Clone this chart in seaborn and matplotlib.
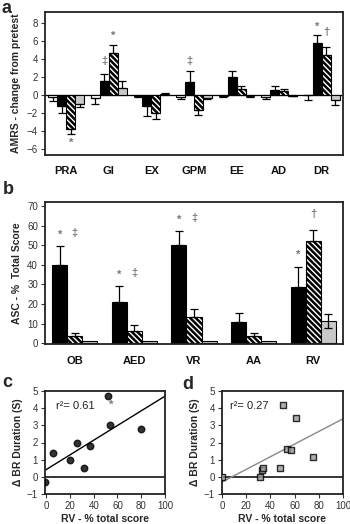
import numpy as np
import pandas as pd
import matplotlib
matplotlib.use("Agg")
import matplotlib.pyplot as plt
import seaborn as sns

# ---------------- data ----------------
a_categories = ["PRA", "GI", "EX", "GPM", "EE", "AD", "DR"]
a_series = ["white", "black", "hatched", "gray"]
a_white = [-0.3, -0.4, -0.15, -0.3, -0.15, -0.3, -0.05]
a_black = [-1.3, 1.5, -1.3, 1.4, 2.0, 0.5, 5.7]
a_hatched = [-3.8, 4.6, -2.0, -1.7, 0.6, 0.4, 4.4]
a_gray = [-1.0, 0.7, 0.1, -0.35, -0.15, -0.1, -0.6]
a_err_white = [0.4, 0.6, 0.1, 0.2, 0.1, 0.15, 0.55]
a_err_black = [0.7, 0.8, 1.1, 1.2, 0.6, 0.5, 0.9]
a_err_hatched = [0.6, 0.9, 0.7, 0.5, 0.4, 0.2, 0.9]
a_err_gray = [0.4, 0.8, 0.05, 0.1, 0.05, 0.05, 0.5]
a_yticks = [-6, -4, -2, 0, 2, 4, 6, 8]
# annotations: (category index, series index, symbol, y value)
a_marks = [(0, 2, "*", -5.3), (1, 1, "‡", 3.8), (1, 2, "*", 6.5),
           (3, 1, "‡", 3.8), (6, 1, "*", 7.6), (6, 2, "†", 7.0)]

b_categories = ["OB", "AED", "VR", "AA", "RV"]
b_series = ["black", "hatched", "gray"]
b_black = [40, 21, 50, 11, 28.5]
b_hatched = [3.5, 6, 13.5, 3.5, 52]
b_gray = [1, 1, 1, 1, 11.5]
b_err_black = [9.5, 8, 7, 4.5, 10.5]
b_err_hatched = [1.5, 3.5, 4, 1.5, 5.5]
b_err_gray = [0, 0, 0, 0, 3.5]
b_err_gray_low = [0, 0, 0, 0, 3.5]
b_yticks = [0, 10, 20, 30, 40, 50, 60, 70]
b_marks = [(0, 0, "*", 55), (0, 1, "‡", 56), (1, 0, "*", 35), (1, 1, "‡", 36),
           (2, 0, "*", 63), (2, 1, "‡", 64), (4, 0, "*", 45), (4, 1, "†", 66)]

c_x = [-1, 6, 20, 26, 32, 37, 52, 54, 80]
c_y = [-0.3, 1.4, 1.0, 2.0, 0.5, 1.8, 4.7, 3.0, 2.8]
d_x = [0, 31, 33, 34, 48, 50, 54, 57, 61, 75]
d_y = [0, 0, 0.4, 0.5, 0.5, 4.2, 1.6, 1.55, 3.4, 1.15]
cd_xticks = [0, 20, 40, 60, 80, 100]
cd_yticks = [-1, 0, 1, 2, 3, 4, 5]

# ---------------- style ----------------
sns.set_theme(style="white")
plt.rcParams["font.family"] = ["Liberation Sans", "DejaVu Sans"]
plt.rcParams["hatch.linewidth"] = 1.8
plt.rcParams["hatch.color"] = "black"

W, H = 350, 524
fig = plt.figure(figsize=(W / 100, H / 100), dpi=100)


def px_axes(left, top, right, bottom):
    return fig.add_axes([left / W, (H - bottom) / H, (right - left) / W, (bottom - top) / H])


FILL = {"white": "white", "black": "black", "hatched": "white", "gray": "#c8c8c8"}
HATCH = {"white": None, "black": None, "hatched": "\\" * 6, "gray": None}
TICK_COLOR = "#333333"
SYM_COLOR = "#777777"


def style_axes(ax):
    for s in ax.spines.values():
        s.set_color("#222222")
        s.set_linewidth(1.3)
    ax.tick_params(axis="y", labelsize=7, colors=TICK_COLOR, length=3, width=0.8, pad=2, direction="out", left=True)
    ax.tick_params(axis="x", labelsize=8, length=0, pad=6)


def bar_panel(ax, cats, series, values, errs, errs_low, width, marks):
    rows = []
    for s, vals in zip(series, values):
        for c, v in zip(cats, vals):
            rows.append({"cat": c, "series": s, "value": v})
    df = pd.DataFrame(rows)
    sns.barplot(data=df, x="cat", y="value", hue="series", order=cats, hue_order=series,
                errorbar=None, width=width, dodge=True, ax=ax, legend=False,
                edgecolor="black", linewidth=0.8, saturation=1)
    centers = {}
    for si, (cont, s) in enumerate(zip(ax.containers, series)):
        for ci, bar in enumerate(cont.patches):
            bar.set_facecolor(FILL[s])
            bar.set_edgecolor("black")
            if HATCH[s]:
                bar.set_hatch(HATCH[s])
            xc = bar.get_x() + bar.get_width() / 2
            centers[(ci, si)] = (xc, bar.get_width())
            v = values[si][ci]
            e = errs[si][ci]
            el = errs_low[si][ci] if errs_low is not None else 0
            if v >= 0:
                yerr = [[el], [e]]
            else:
                yerr = [[e], [el]]
            if e > 0:
                ax.errorbar([xc], [v], yerr=yerr, fmt="none", ecolor="black",
                            elinewidth=0.9, capsize=3, capthick=0.9, zorder=3)
    for ci, si, sym, y in marks:
        xc, w = centers[(ci, si)]
        ax.text(xc, y, sym, ha="center", va="center", fontsize=8, color=SYM_COLOR,
                fontweight="bold")
    ax.set_xlabel("")
    ax.set_xlim(-0.5, len(cats) - 0.5)
    for lab in ax.get_xticklabels():
        lab.set_fontweight("bold")
        lab.set_color("#111111")


# ---------------- panel a ----------------
ax_a = px_axes(45, 12, 343, 155)
bar_panel(ax_a, a_categories, a_series,
          [a_white, a_black, a_hatched, a_gray],
          [a_err_white, a_err_black, a_err_hatched, a_err_gray], None, 0.84, a_marks)
ax_a.axhline(0, color="black", lw=0.9, zorder=0.5)
ax_a.set_ylim(-6.7, 9.2)
ax_a.set_yticks(a_yticks)
ax_a.set_ylabel("AMRS - change from pretest", fontsize=7.5, fontweight="bold", labelpad=4)
style_axes(ax_a)
ax_a.tick_params(axis="x", pad=8)

# ---------------- panel b ----------------
ax_b = px_axes(45, 202, 343, 344)
zeros = [0] * len(b_categories)
bar_panel(ax_b, b_categories, b_series,
          [b_black, b_hatched, b_gray],
          [b_err_black, b_err_hatched, b_err_gray],
          [zeros, zeros, b_err_gray_low], 0.76, b_marks)
ax_b.set_ylim(-0.4, 72)
ax_b.set_yticks(b_yticks)
ax_b.set_ylabel("ASC - %  Total Score", fontsize=7.5, fontweight="bold", labelpad=4)
style_axes(ax_b)
ax_b.tick_params(axis="x", pad=9)

# ---------------- panel c ----------------
ax_c = px_axes(45, 391, 165, 494)
ax_c.set_xlim(-1, 100)
ax_c.set_ylim(-1, 5)
sns.regplot(x=np.array(c_x), y=np.array(c_y), ci=None, truncate=False, ax=ax_c,
            scatter_kws=dict(s=22, color="black", edgecolor="black", zorder=3),
            line_kws=dict(color="black", lw=1.0))
ax_c.axhline(0, color="black", lw=1.1, zorder=1)
ax_c.set_xlim(-1, 100)
ax_c.set_ylim(-1, 5)
ax_c.set_xticks(cd_xticks)
ax_c.set_yticks(cd_yticks)
ax_c.text(8, 4.1, "r²= 0.61", fontsize=8, color="#222222", va="center")
ax_c.text(53, 4.2, "*", fontsize=8, color=SYM_COLOR, va="center", fontweight="bold")
ax_c.set_ylabel("Δ BR Duration (S)", fontsize=7.5, fontweight="bold", labelpad=3)
ax_c.set_xlabel("RV - % total score", fontsize=7.5, fontweight="bold", labelpad=2)
style_axes(ax_c)
ax_c.tick_params(axis="x", labelsize=7, colors=TICK_COLOR, length=3, width=0.8, pad=2, bottom=True)

# ---------------- panel d ----------------
ax_d = px_axes(222, 391, 343, 494)
ax_d.set_xlim(0, 100)
ax_d.set_ylim(-1, 5)
sns.regplot(x=np.array(d_x), y=np.array(d_y), ci=None, truncate=False, ax=ax_d, marker="s",
            scatter_kws=dict(s=22, color="#9a9a9a", edgecolor="black", linewidths=1.0, zorder=3),
            line_kws=dict(color="#8a8a8a", lw=1.0))
ax_d.axhline(0, color="black", lw=1.1, zorder=1)
ax_d.set_xlim(0, 100)
ax_d.set_ylim(-1, 5)
ax_d.set_xticks(cd_xticks)
ax_d.set_yticks(cd_yticks)
ax_d.text(7, 4.1, "r²= 0.27", fontsize=8, color="#222222", va="center")
ax_d.set_ylabel("Δ BR Duration (S)", fontsize=7.5, fontweight="bold", labelpad=3)
ax_d.set_xlabel("RV - % total score", fontsize=7.5, fontweight="bold", labelpad=2)
style_axes(ax_d)
ax_d.tick_params(axis="x", labelsize=7, colors=TICK_COLOR, length=3, width=0.8, pad=2, bottom=True)

# ---------------- panel letters ----------------
for lbl, x, y in [("a", 2, 0), ("b", 3, 181), ("c", 2, 374), ("d", 182, 376)]:
    fig.text(x / W, 1 - y / H, lbl, fontsize=13, fontweight="bold", ha="left", va="top")

fig.savefig("out.png", dpi=100)
